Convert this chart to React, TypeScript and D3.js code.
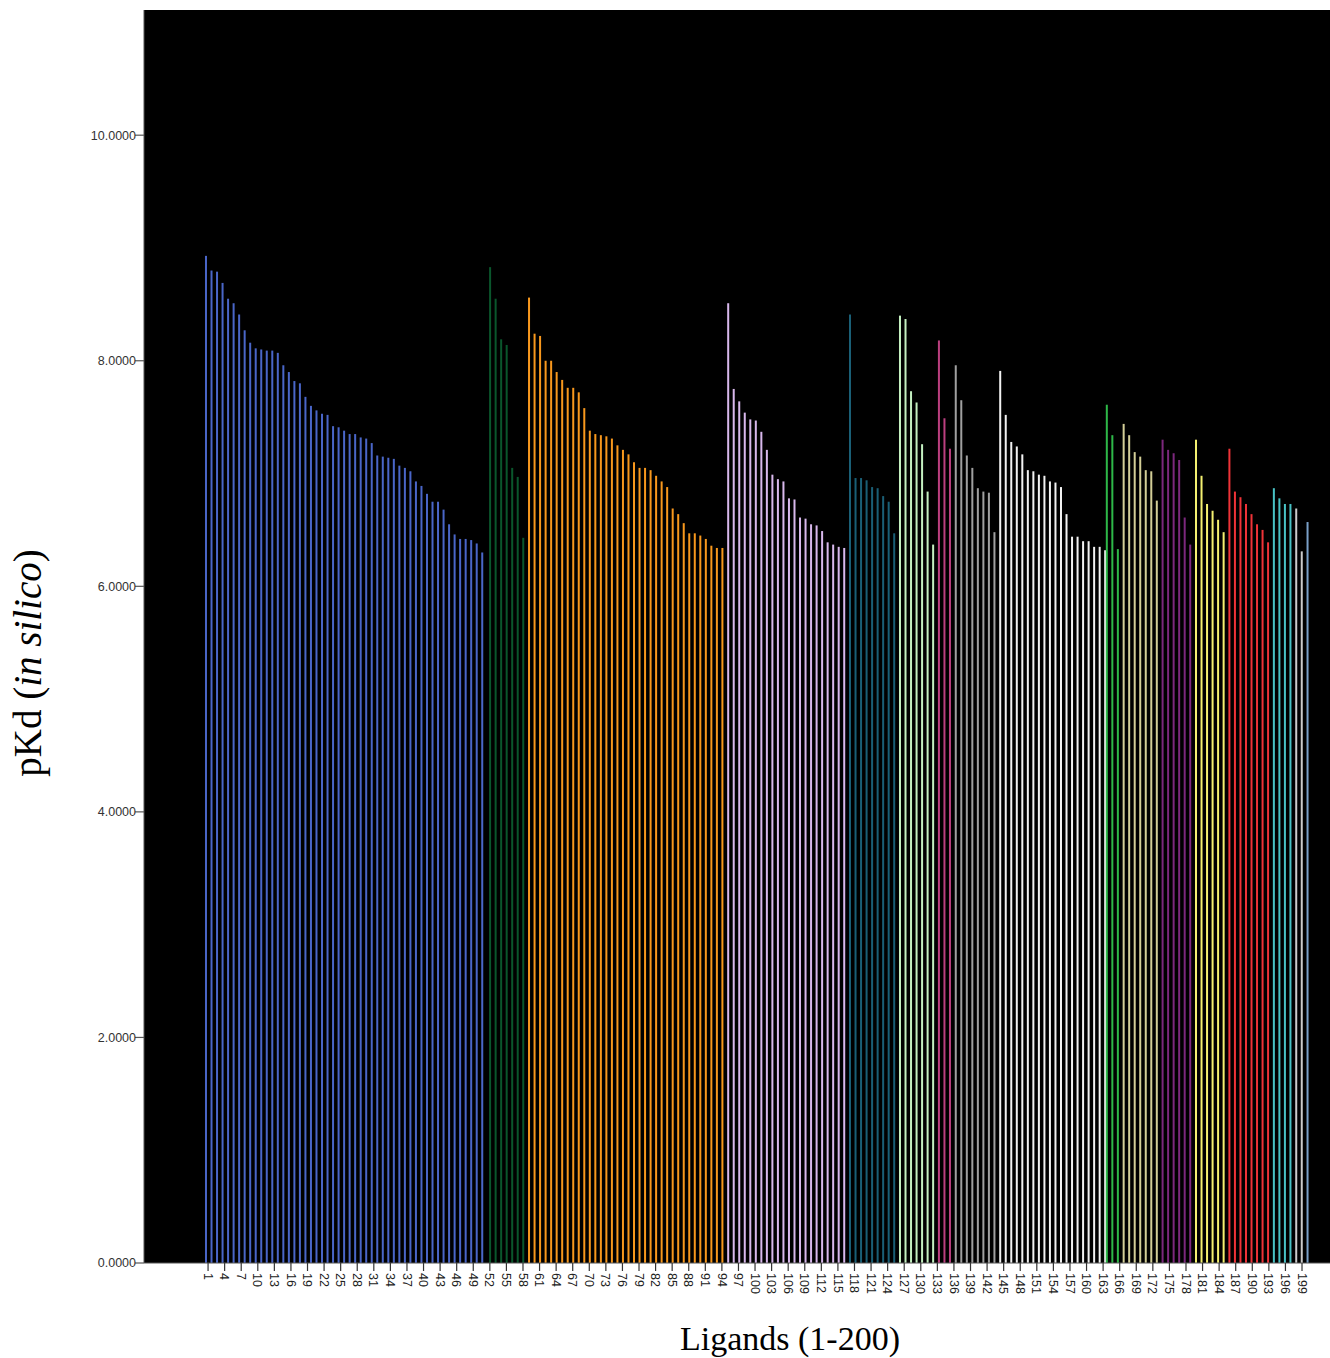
import React from "react";
import * as d3 from "d3";

// SPSS category order of the colour groups (this drives the sub-position inside each slot)
const groupOrder = ["G1", "G2", "G3", "G4", "G5", "G6", "G7", "G8", "G9", "G10", "G11", "G12", "G13", "G14", "G15", "G16", "G17"];
const groupColors = ["#4A66C8", "#2EB848", "#D3CE97", "#7C287D", "#F4F070", "#EF3338", "#48C2C5", "#CCCCCC", "#7AA0C8", "#0A562C", "#F8981D", "#D8B8EC", "#1A5F76", "#C4F0C0", "#BB3F7F", "#A0A0A0", "#F2F2F2"];

// pKd values, in ligand order, per colour group
const blueVals = [8.93, 8.8, 8.79, 8.69, 8.55, 8.51, 8.41, 8.27, 8.16, 8.11, 8.1, 8.09, 8.09, 8.07, 7.96, 7.9, 7.82, 7.8, 7.68, 7.6, 7.56, 7.53, 7.52, 7.42, 7.41, 7.38, 7.35, 7.35, 7.32, 7.31, 7.27, 7.16, 7.15, 7.14, 7.13, 7.07, 7.05, 7.02, 6.93, 6.89, 6.82, 6.75, 6.75, 6.68, 6.55, 6.46, 6.42, 6.42, 6.41, 6.38, 6.3];
const darkGreenVals = [8.83, 8.55, 8.19, 8.14, 7.05, 6.97, 6.43];
const orangeVals = [8.56, 8.24, 8.22, 8.0, 8.0, 7.9, 7.83, 7.76, 7.76, 7.72, 7.58, 7.38, 7.35, 7.34, 7.33, 7.31, 7.25, 7.21, 7.17, 7.1, 7.05, 7.05, 7.03, 6.98, 6.93, 6.88, 6.69, 6.64, 6.56, 6.47, 6.47, 6.45, 6.42, 6.36, 6.34, 6.34];
const lavenderVals = [8.51, 7.75, 7.64, 7.54, 7.48, 7.47, 7.37, 7.21, 6.99, 6.95, 6.93, 6.78, 6.77, 6.61, 6.6, 6.55, 6.54, 6.49, 6.39, 6.37, 6.35, 6.34];
const tealVals = [8.41, 6.96, 6.96, 6.94, 6.88, 6.87, 6.8, 6.75, 6.47];
const lightGreenVals = [8.4, 8.37, 7.73, 7.63, 7.26, 6.84, 6.37];
const pinkVals = [8.18, 7.49, 7.22];
const grayVals = [7.96, 7.65, 7.16, 7.05, 6.87, 6.84, 6.83, 6.48];
const whiteVals = [7.91, 7.52, 7.28, 7.24, 7.17, 7.03, 7.02, 6.99, 6.98, 6.93, 6.92, 6.88, 6.64, 6.44, 6.44, 6.4, 6.4, 6.35, 6.35, 6.32];
const greenVals = [7.61, 7.34, 6.33];
const khakiVals = [7.44, 7.34, 7.19, 7.15, 7.03, 7.02, 6.76];
const purpleVals = [7.3, 7.21, 7.18, 7.12, 6.61, 6.37];
const yellowVals = [7.3, 6.98, 6.73, 6.67, 6.59, 6.48];
const redVals = [7.22, 6.84, 6.79, 6.73, 6.64, 6.55, 6.5, 6.39];
const cyanVals = [6.87, 6.78, 6.73, 6.73];
const lightGrayVals = [6.69, 6.31];
const lightBlueVals = [6.57];

const runs = [
  { group: "G1", values: blueVals },
  { group: "G10", values: darkGreenVals },
  { group: "G11", values: orangeVals },
  { group: "G12", values: lavenderVals },
  { group: "G13", values: tealVals },
  { group: "G14", values: lightGreenVals },
  { group: "G15", values: pinkVals },
  { group: "G16", values: grayVals },
  { group: "G17", values: whiteVals },
  { group: "G2", values: greenVals },
  { group: "G3", values: khakiVals },
  { group: "G4", values: purpleVals },
  { group: "G5", values: yellowVals },
  { group: "G6", values: redVals },
  { group: "G7", values: cyanVals },
  { group: "G8", values: lightGrayVals },
  { group: "G9", values: lightBlueVals },
];

const yTicks = [0, 2, 4, 6, 8, 10];
const xTickIds = d3.range(1, 201, 3);

const W = 1330;
const H = 1358;
const plot = { left: 144, top: 10, right: 1330, bottom: 1263 };

export default function App() {
  const ligands = runs
    .flatMap((r) => r.values.map((v) => ({ group: r.group, value: v })))
    .map((d, i) => ({ ...d, id: String(i + 1) }));

  const x0 = d3
    .scaleBand<string>()
    .domain(ligands.map((d) => d.id))
    .range([205.3, 1310.3])
    .padding(0);
  const bw = x0.bandwidth();
  const x1 = d3
    .scaleBand<string>()
    .domain(groupOrder)
    .range([0.1 * bw, 0.9 * bw]);

  const y = d3.scaleLinear().domain([0, 11.11]).range([plot.bottom, plot.top]);
  const color = d3.scaleOrdinal<string, string>().domain(groupOrder).range(groupColors);

  const axisColor = "#555";

  return (
    <div style={{ position: "absolute", left: 0, top: 0 }}>
      <svg width={W} height={H} style={{ display: "block", background: "#fff" }}>
        <rect x={plot.left} y={plot.top} width={plot.right - plot.left} height={plot.bottom - plot.top} fill="#000" />

        {ligands.map((d) => {
          const cx = (x0(d.id) ?? 0) + (x1(d.group) ?? 0) + x1.bandwidth() / 2;
          return (
            <rect
              key={d.id}
              x={cx - 1}
              y={y(d.value)}
              width={2}
              height={y(0) - y(d.value)}
              fill={color(d.group)}
            />
          );
        })}

        {/* axis lines */}
        <line x1={plot.left} x2={plot.left} y1={plot.top} y2={plot.bottom} stroke={axisColor} strokeWidth={1} />
        <line x1={plot.left} x2={plot.right} y1={plot.bottom} y2={plot.bottom} stroke={axisColor} strokeWidth={1} />

        {/* y ticks */}
        {yTicks.map((t) => (
          <g key={t} transform={`translate(0,${y(t)})`}>
            <line x1={plot.left - 9} x2={plot.left} stroke={axisColor} strokeWidth={1.2} />
            <text
              x={plot.left - 8}
              dy="0.35em"
              textAnchor="end"
              fontFamily="Liberation Sans, Arial, sans-serif"
              fontSize={12.5}
              fill="#333"
            >
              {t.toFixed(4)}
            </text>
          </g>
        ))}

        {/* x ticks */}
        {xTickIds.map((id) => {
          const cx = (x0(String(id)) ?? 0) + bw / 2;
          return (
            <g key={id} transform={`translate(${cx},${plot.bottom})`}>
              <line y1={0} y2={8} stroke="#333" strokeWidth={1.2} />
              <text
                transform="translate(0,10) rotate(90)"
                dy="0.35em"
                textAnchor="start"
                fontFamily="Liberation Sans, Arial, sans-serif"
                fontSize={12.5}
                fill="#222"
              >
                {id}
              </text>
            </g>
          );
        })}

        <text
          transform="translate(41,663) rotate(-90)"
          textAnchor="middle"
          fontFamily="Liberation Serif, Times New Roman, serif"
          fontSize={39}
          fill="#000"
        >
          pKd (<tspan fontStyle="italic">in silico</tspan>)
        </text>
        <text
          x={790}
          y={1350}
          textAnchor="middle"
          fontFamily="Liberation Serif, Times New Roman, serif"
          fontSize={34}
          fill="#000"
        >
          Ligands (1-200)
        </text>
      </svg>
    </div>
  );
}
